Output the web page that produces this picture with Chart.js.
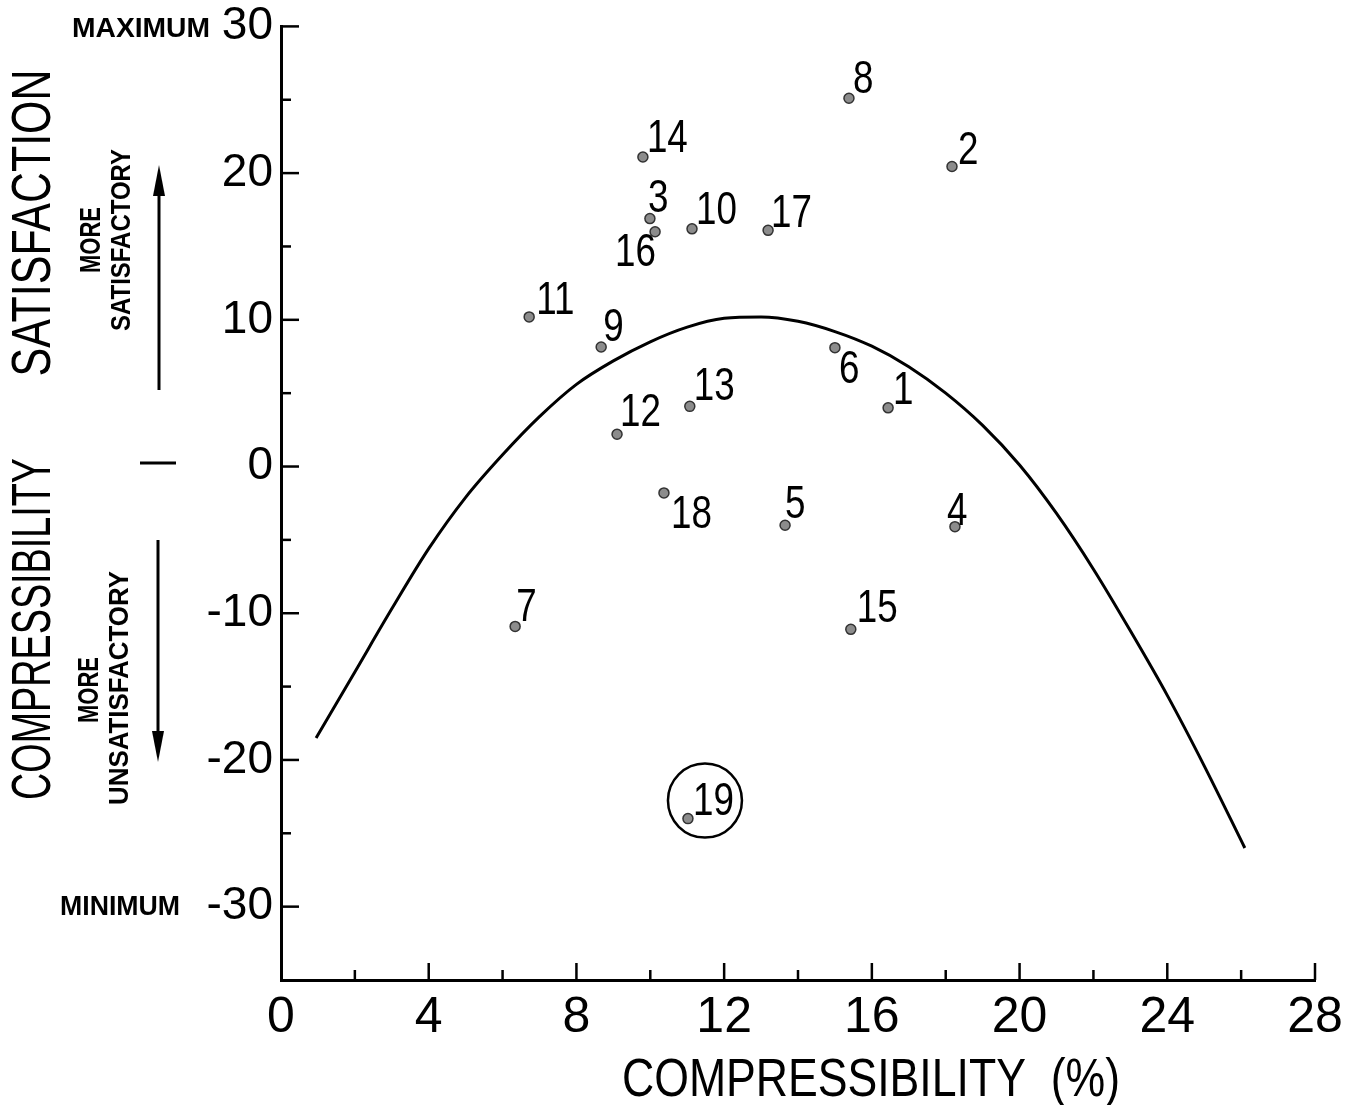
<!DOCTYPE html>
<html>
<head>
<meta charset="utf-8">
<script src="https://cdn.jsdelivr.net/npm/chart.js@4.4.1/dist/chart.umd.min.js"></script>
<style>
  html, body { margin: 0; padding: 0; background: #fff; }
</style>
</head>
<body>
<canvas id="chart" width="1352" height="1105"></canvas>
<script>
// sample numbers and their measured values
var sampleIds = ['1', '2', '3', '4', '5', '6', '7', '8', '9', '10',
                 '11', '12', '13', '14', '15', '16', '17', '18', '19'];
var compressibility = [16.44, 18.17, 9.99, 18.25, 13.65, 15.0, 6.34, 15.38, 8.67, 11.13,
                       6.72, 9.10, 11.07, 9.80, 15.43, 10.13, 13.19, 10.37, 11.02];
var satisfaction = [4.0, 20.45, 16.9, -4.1, -4.0, 8.1, -10.9, 25.1, 8.15, 16.2,
                    10.2, 2.2, 4.1, 21.1, -11.1, 16.0, 16.1, -1.8, -24.0];

// fitted curve
var curveX = [0.95, 2, 3, 4, 5, 6, 7, 8, 9, 10, 11, 12, 13,
              14, 15, 16, 17, 18, 19, 20, 21, 22, 23, 24, 25, 26.1];
var curveY = [-18.5, -14.0, -9.7, -5.6, -2.1, 0.8, 3.4, 5.6, 7.2, 8.5, 9.5, 10.1, 10.2,
              9.9, 9.2, 8.2, 6.8, 5.0, 2.8, 0.1, -3.2, -7.0, -11.2, -15.6, -20.4, -26.0];

// axis tick labels
var xTickLabels = ['0', '4', '8', '12', '16', '20', '24', '28'];
var yTickLabels = ['-30', '-20', '-10', '0', '10', '20', '30'];

// label placement (pixels from the point: left edge, baseline)
var labelOffsets = [[5, -4], [6, -3], [-2, -7], [-8, -2], [0, -7], [4, 35], [1, -5], [4, -5], [2, -6], [4, -5],
                    [7, -3], [3, -8], [4, -6], [4, -5], [6, -7], [-40, 34], [3, -3], [7, 35], [5, -4]];
var circledSample = '19';

var FONT = '"Liberation Sans", Arial, sans-serif';

function fitText(ctx, str, cx, cy, size, width, bold, rot) {
  ctx.save();
  ctx.translate(cx, cy);
  if (rot) ctx.rotate(rot);
  ctx.font = (bold ? 'bold ' : '') + size + 'px ' + FONT;
  var w = ctx.measureText(str).width;
  ctx.scale(width / w, 1);
  ctx.textAlign = 'center';
  ctx.textBaseline = 'middle';
  ctx.fillStyle = '#000';
  ctx.fillText(str, 0, 0);
  ctx.restore();
}

function line(ctx, x1, y1, x2, y2, w) {
  ctx.beginPath();
  ctx.lineWidth = w;
  ctx.moveTo(x1, y1);
  ctx.lineTo(x2, y2);
  ctx.stroke();
}

var decorPlugin = {
  id: 'decor',
  afterDraw: function(chart) {
    var ctx = chart.ctx;
    var xs = chart.scales.x, ys = chart.scales.y;
    var area = chart.chartArea;
    ctx.save();
    ctx.strokeStyle = '#000';
    ctx.fillStyle = '#000';

    // tick marks pointing inside
    ys.ticks.forEach(function(t) {
      if (t.value <= ys.min) return;
      var py = ys.getPixelForValue(t.value);
      var len = (t.value % 10 === 0) ? 18 : 10;
      line(ctx, area.left, py, area.left + len, py, 2.5);
    });
    xs.ticks.forEach(function(t) {
      if (t.value <= xs.min) return;
      var px = xs.getPixelForValue(t.value);
      var len = (t.value % 4 === 0) ? 17 : 10;
      line(ctx, px, area.bottom, px, area.bottom - len, 2.5);
    });

    // point labels
    var meta = chart.getDatasetMeta(1);
    ctx.font = '46px ' + FONT;
    ctx.textAlign = 'left';
    ctx.textBaseline = 'alphabetic';
    meta.data.forEach(function(pt, i) {
      var off = labelOffsets[i];
      ctx.save();
      ctx.translate(pt.x + off[0], pt.y + off[1]);
      ctx.scale(0.8, 1);
      ctx.fillText(sampleIds[i], 0, 0);
      ctx.restore();
      if (sampleIds[i] === circledSample) {
        ctx.beginPath();
        ctx.lineWidth = 2.5;
        ctx.arc(pt.x + 17, pt.y - 18, 37, 0, Math.PI * 2);
        ctx.stroke();
      }
    });

    // axis titles and side notes
    fitText(ctx, 'COMPRESSIBILITY  (%)', 871, 1081, 53, 498, false, 0);
    fitText(ctx, 'COMPRESSIBILITY', 35, 629, 56, 342, false, -Math.PI / 2);
    fitText(ctx, 'SATISFACTION', 35, 223, 56, 307, false, -Math.PI / 2);
    fitText(ctx, 'MAXIMUM', 141, 30, 27, 138, true, 0);
    fitText(ctx, 'MINIMUM', 120, 908, 27, 120, true, 0);
    fitText(ctx, 'MORE', 92, 240, 29, 66, true, -Math.PI / 2);
    fitText(ctx, 'SATISFACTORY', 123, 240, 27, 182, true, -Math.PI / 2);
    fitText(ctx, 'MORE', 90, 690, 29, 66, true, -Math.PI / 2);
    fitText(ctx, 'UNSATISFACTORY', 121, 688, 27, 234, true, -Math.PI / 2);

    // arrows and dash
    line(ctx, 159, 390, 159, 190, 3);
    ctx.beginPath();
    ctx.moveTo(159, 165); ctx.lineTo(153, 196); ctx.lineTo(165, 196); ctx.closePath();
    ctx.fill();
    line(ctx, 158, 540, 158, 738, 3);
    ctx.beginPath();
    ctx.moveTo(158, 762); ctx.lineTo(152, 731); ctx.lineTo(164, 731); ctx.closePath();
    ctx.fill();
    line(ctx, 140, 463, 176, 463, 3);

    ctx.restore();
  }
};

var curvePoints = curveX.map(function(x, i) { return {x: x, y: curveY[i]}; });
var samplePoints = compressibility.map(function(x, i) { return {x: x, y: satisfaction[i]}; });

new Chart(document.getElementById('chart'), {
  type: 'scatter',
  data: {
    datasets: [{
      type: 'line',
      data: curvePoints,
      borderColor: '#000',
      borderWidth: 3,
      pointRadius: 0,
      fill: false,
      cubicInterpolationMode: 'monotone'
    }, {
      data: samplePoints,
      backgroundColor: '#8c8c8c',
      borderColor: '#333',
      borderWidth: 1.5,
      pointRadius: 5
    }]
  },
  options: {
    responsive: false,
    animation: false,
    events: [],
    layout: { padding: { left: 0, right: 37, top: 24, bottom: 0 } },
    plugins: { legend: { display: false }, tooltip: { enabled: false } },
    scales: {
      x: {
        type: 'linear',
        min: 0, max: 28,
        afterFit: function(s) { s.height = 125; s.paddingRight = 0; s.paddingLeft = 0; },
        grid: { display: false, drawTicks: false },
        border: { display: true, color: '#000', width: 3 },
        ticks: {
          stepSize: 2,
          padding: 13,
          color: '#000',
          font: { family: FONT, size: 50, lineHeight: 1 },
          maxRotation: 0,
          autoSkip: false,
          callback: function(v) {
            return v % 4 === 0 ? xTickLabels[v / 4] : '';
          }
        }
      },
      y: {
        type: 'linear',
        min: -35, max: 30,
        afterFit: function(s) { s.width = 281; },
        grid: { display: false, drawTicks: false },
        border: { display: true, color: '#000', width: 3 },
        ticks: {
          stepSize: 5,
          padding: 8,
          color: '#000',
          font: { family: FONT, size: 46, lineHeight: 0.8 },
          autoSkip: false,
          callback: function(v) {
            return v % 10 === 0 ? yTickLabels[(v + 30) / 10] : '';
          }
        }
      }
    }
  },
  plugins: [decorPlugin]
});
</script>
</body>
</html>
